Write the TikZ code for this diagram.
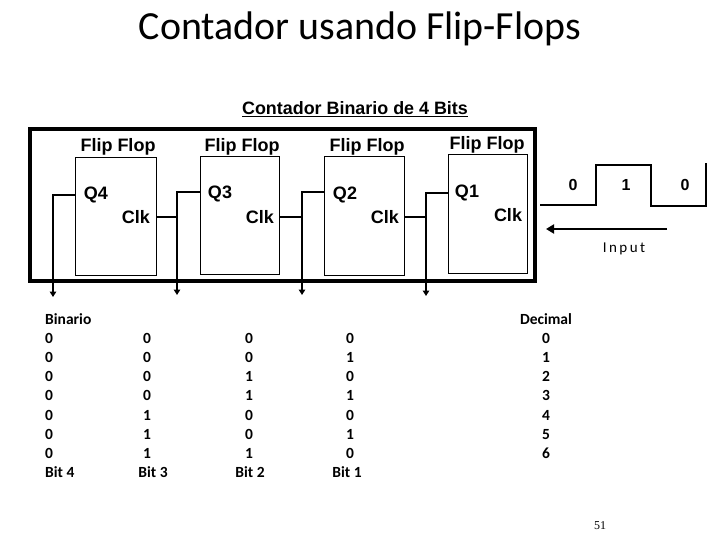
\documentclass[tikz,border=0pt]{standalone}
\usepackage{fontspec}
\setmainfont{Liberation Sans}
\newfontfamily\calfont{Carlito}
\newfontfamily\numfont{Liberation Serif}
\usetikzlibrary{positioning,arrows.meta}

\begin{document}
\begin{tikzpicture}[x=1pt,y=-1pt,
    ff/.style={draw,fill=white,line width=0.9pt,minimum width=#1,minimum height=118.5pt,inner sep=0pt},
    ff/.default=80pt,
    outer/.style={draw,line width=3.6pt,minimum width=505pt,minimum height=152pt,inner sep=0pt},
    flab/.style={font=\fontsize{18}{20}\selectfont\bfseries,inner sep=0pt},
    wave/.style={line width=1.6pt},
    wire/.style={line width=1.6pt},
    outwire/.style={wire,-{Triangle[width=6.5pt,length=5.5pt]}},
    tab/.style={font=\calfont\fontsize{15.5}{17}\selectfont\bfseries,inner sep=0pt,text height=10pt,text depth=0pt}]
  \useasboundingbox (0,0) rectangle (720,540);
  %% titles
  \node[inner sep=0pt,font=\calfont\fontsize{39.9}{42}\selectfont] (title) at (360,29) {Contador usando Flip-Flops};
  \node[inner sep=0pt,font=\fontsize{17.9}{20}\selectfont\bfseries] (sub) at (355,109) {\underline{Contador Binario de 4 Bits}};
  %% frame and flip flops
  \node[outer] (frame) at (282.5,205) {};
  \node[ff=81pt] (ff_4) at (115.5,216.5) {};
  \node[ff=79pt] (ff_3) at (239.5,215.5) {};
  \node[ff=80pt] (ff_2) at (364,216) {};
  \node[ff=79pt] (ff_1) at (487.5,214) {};
  \node[flab] (t_4) at (118,147) {Flip Flop};
  \node[flab] (t_3) at (242,147) {Flip Flop};
  \node[flab] (t_2) at (367,147) {Flip Flop};
  \node[flab] (t_1) at (487,145) {Flip Flop};
  \node[flab] (q_4) at (96,195) {Q4};
  \node[flab] (q_3) at (220,194) {Q3};
  \node[flab] (q_2) at (345,195) {Q2};
  \node[flab] (q_1) at (467,193) {Q1};
  \node[flab] (clk_4) at (136,217) {Clk};
  \node[flab] (clk_3) at (260,217) {Clk};
  \node[flab] (clk_2) at (385,217) {Clk};
  \node[flab] (clk_1) at (508,215) {Clk};
  %% outputs
  \coordinate (out_4) at (53,297);
  \coordinate (out_3) at (177,295);
  \coordinate (out_2) at (302,295);
  \coordinate (out_1) at (426,296);
  \draw[outwire] ([yshift=21.5pt]ff_4.west) -| (out_4);
  \draw[outwire] ([yshift=23.5pt]ff_3.west) -| (out_3);
  \draw[outwire] ([yshift=24pt]ff_2.west) -| (out_2);
  \draw[outwire] ([yshift=21pt]ff_1.west) -| (out_1);
  \draw[wire] ([yshift=-0.5pt]ff_4.east) -- ([yshift=-0.5pt]ff_4.east -| out_3);
  \draw[wire] ([yshift=-1.5pt]ff_3.east) -- ([yshift=-1.5pt]ff_3.east -| out_2);
  \draw[wire] ([yshift=-1pt]ff_2.east) -- ([yshift=-1pt]ff_2.east -| out_1);
  %% input wave
  \coordinate (w_0) at (540,205);
  \coordinate (w_1) at (596,205);
  \coordinate (w_2) at (596,165);
  \coordinate (w_3) at (651,165);
  \coordinate (w_4) at (651,206);
  \coordinate (w_5) at (706,206);
  \coordinate (w_6) at (706,163);
  \draw[wave] (w_0) -- (w_1) -- (w_2) -- (w_3) -- (w_4) -- (w_5) -- (w_6);
  \node[flab,font=\fontsize{16}{18}\selectfont\bfseries] (b_0) at (573,185) {0};
  \node[flab,font=\fontsize{16}{18}\selectfont\bfseries] (b_1) at (626,185) {1};
  \node[flab,font=\fontsize{16}{18}\selectfont\bfseries] (b_2) at (685,185) {0};
  \coordinate (i_a) at (667,229);
  \coordinate (i_b) at (546,229);
  \draw[line width=2.6pt,-{Triangle[width=9pt,length=8pt]}] (i_a) -- (i_b);
  \node[tab,font=\calfont\fontsize{15}{17}\selectfont,text=black] (input) at (624,247) {I\,n\,p\,u\,t};
  %% table
  \node[tab,anchor=west] (bin) at (45,319) {Binario};
  \node[tab] (dec) at (546,319) {Decimal};
  \foreach \i/\y/\a/\b/\c/\d/\e in {1/338/0/0/0/0/0,2/357/0/0/0/1/1,3/376/0/0/1/0/2,4/395/0/0/1/1/3,
      5/415/0/1/0/0/4,6/434/0/1/0/1/5,7/453/0/1/1/0/6}{
    \node[tab,anchor=west] (r4_\i) at (45,\y) {\a};
    \node[tab] (r3_\i) at (147,\y) {\b};
    \node[tab] (r2_\i) at (249,\y) {\c};
    \node[tab] (r1_\i) at (350,\y) {\d};
    \node[tab] (rd_\i) at (546,\y) {\e};
  }
  \node[tab,anchor=west] (bit_4) at (45,472) {Bit 4};
  \node[tab] (bit_3) at (153,472) {Bit 3};
  \node[tab] (bit_2) at (250,472) {Bit 2};
  \node[tab] (bit_1) at (347,472) {Bit 1};
  \node[inner sep=0pt,font=\numfont\fontsize{12}{14}\selectfont] (page) at (600,526) {51};
\end{tikzpicture}
\end{document}
